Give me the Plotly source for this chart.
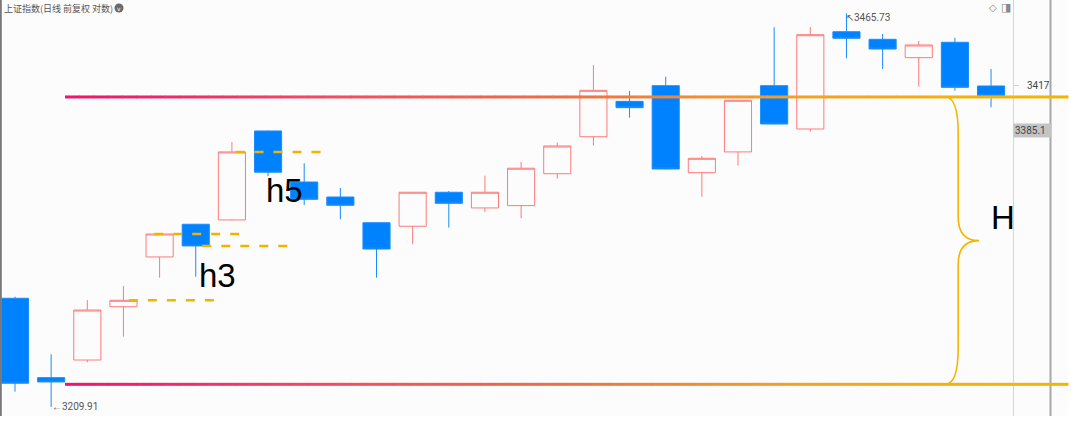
import math
import plotly.graph_objects as go

# ---------------- data ----------------
idx = list(range(28))
open_ = [3278.6, 3228.3, 3239.4, 3273.2, 3305.1, 3326.2, 3329.0, 3387.2, 3353.7, 3343.9,
         3327.2, 3324.9, 3347.0, 3336.8, 3338.3, 3359.1, 3383.4, 3406.8, 3417.2, 3359.8,
         3373.4, 3417.2, 3388.5, 3453.3, 3448.2, 3435.9, 3446.2, 3417.0]
close = [3224.8, 3225.6, 3271.1, 3277.3, 3319.9, 3312.2, 3373.4, 3360.1, 3342.4, 3338.5,
         3310.2, 3347.0, 3339.8, 3347.0, 3362.7, 3377.3, 3414.1, 3402.6, 3362.2, 3369.2,
         3407.5, 3391.8, 3451.3, 3448.9, 3441.7, 3444.4, 3416.1, 3410.6]
high = [3279.6, 3243.0, 3277.5, 3286.5, 3320.2, 3326.4, 3379.9, 3387.4, 3365.9, 3349.8,
        3327.4, 3347.2, 3347.8, 3357.8, 3366.8, 3379.5, 3431.0, 3413.7, 3423.2, 3370.7,
        3407.7, 3456.3, 3456.5, 3465.73, 3451.8, 3447.1, 3449.3, 3428.3]
low = [3219.5, 3209.91, 3238.0, 3254.2, 3291.8, 3292.4, 3328.7, 3357.6, 3338.7, 3329.4,
       3291.8, 3313.5, 3324.0, 3334.2, 3330.1, 3355.9, 3377.5, 3396.0, 3362.0, 3344.1,
       3364.4, 3391.6, 3386.7, 3435.5, 3428.3, 3416.5, 3413.9, 3402.9]

title_text = "上证指数(日线 前复权 对数)"
tick_vals = [3417]
tick_text = ["3417"]
marker_price = 3385.1
h_levels = [3409.7, 3224.1]          # the two gradient lines (H range)
dash_candles = [3, 4, 5, 6]          # candles whose close is marked with a dashed line
labels = ["h3", "h5", "H"]
label_prices = [3293.0, 3348.0, 3330.7]

# ---------------- figure ----------------
BG = "#fcfcfc"
fig = go.Figure(go.Candlestick(
    x=idx, open=open_, high=high, low=low, close=close,
    increasing=dict(line=dict(color="#ff7a7a", width=1), fillcolor=BG),
    decreasing=dict(line=dict(color="#1a8cff", width=1), fillcolor="#0082ff"),
    whiskerwidth=0, hoverinfo="skip", showlegend=False))

W, H = 1080, 425
ML, MR, MT, MB = 0, 67, 0, 9
PW = W - ML - MR
PX_PER_LOG10 = 11822.0
lg = math.log10

shapes = []
shapes.append(dict(type="rect", xref="paper", yref="paper", x0=1.0, x1=1068 / PW, y0=0, y1=1,
                   fillcolor=BG, line=dict(width=0), layer="below"))
shapes.append(dict(type="line", xref="paper", yref="paper", x0=1050.5 / PW, x1=1050.5 / PW, y0=0, y1=1,
                   line=dict(color="#a8a8a8", width=2)))
shapes.append(dict(type="line", xref="paper", yref="paper", x0=0.0008, x1=0.0008, y0=0, y1=1,
                   line=dict(color="#7a7a7a", width=2)))

stops = [(0.0, (240, 18, 110)), (0.25, (243, 72, 100)), (0.5, (238, 112, 70)),
         (0.72, (242, 160, 40)), (0.9, (244, 178, 10)), (1.0, (242, 182, 0))]


def grad(t):
    for (t0, c0), (t1, c1) in zip(stops[:-1], stops[1:]):
        if t <= t1:
            f = (t - t0) / (t1 - t0)
            return "rgb(%d,%d,%d)" % tuple(round(a + (b - a) * f) for a, b in zip(c0, c1))
    return "rgb(%d,%d,%d)" % stops[-1][1]


gx0, gx1 = 65 / PW, 1068 / PW
NSEG = 70
for lvl in h_levels:
    for i in range(NSEG):
        a = gx0 + (gx1 - gx0) * i / NSEG
        b = gx0 + (gx1 - gx0) * (i + 1) / NSEG
        shapes.append(dict(type="line", xref="paper", yref="y", x0=a, x1=b + 0.0005, y0=lvl, y1=lvl,
                           line=dict(color=grad((i + 0.5) / NSEG), width=3)))

dash_offsets = [0.15, -0.15, 0.18, 0.10]
for ci, off in zip(dash_candles, dash_offsets):
    shapes.append(dict(type="line", xref="x", yref="y", x0=ci + off, x1=ci + off + 2.47,
                       y0=close[ci], y1=close[ci], line=dict(color="#f2b300", width=2.5, dash="9px,10px")))

Yt, Yb = h_levels
Ym = (Yt * Yb) ** 0.5
xt, xv, xtip = 25.73, 26.09, 26.67
fa = 10 ** (36 / PX_PER_LOG10)
fb = 10 ** (24 / PX_PER_LOG10)


def p(x, y):
    return f"{x:.4f},{y:.3f}"


path = (f"M {p(xt, Yt)} Q {p(xv, Yt)} {p(xv, Yt / fa)} "
        f"L {p(xv, Ym * fb)} Q {p(xv, Ym)} {p(xtip, Ym)} "
        f"Q {p(xv, Ym)} {p(xv, Ym / fb)} L {p(xv, Yb * fa)} Q {p(xv, Yb)} {p(xt, Yb)}")
shapes.append(dict(type="path", xref="x", yref="y", path=path, line=dict(color="#f5b500", width=1.6)))

shapes.append(dict(type="circle", xref="paper", yref="paper", x0=114.5 / PW, x1=123.5 / PW,
                   y0=1 - 12.5 / 416, y1=1 - 3.5 / 416, fillcolor="#6a6a6a", line=dict(width=0)))

small = dict(family="Roboto, Arial, sans-serif", size=10, color="#555")
big = dict(family="Liberation Sans, Arial, sans-serif", size=33, color="#000")
annotations = [
    dict(text=title_text, xref="paper", yref="paper", x=0, y=1, xanchor="left", yanchor="middle",
         xshift=2, yshift=-8, showarrow=False,
         font=dict(family="Noto Sans CJK SC", size=9, color="#555")),
    dict(text="v", xref="paper", yref="paper", x=119 / PW, y=1 - 8 / 416, xanchor="center", yanchor="middle",
         showarrow=False, font=dict(family="DejaVu Sans", size=6, color="white")),
    dict(text="◇", xref="paper", yref="paper", x=992.5 / PW, y=1 - 7 / 416, xanchor="center",
         yanchor="middle", showarrow=False, font=dict(family="DejaVu Sans", size=10, color="#888")),
    dict(text="◨", xref="paper", yref="paper", x=1006 / PW, y=1 - 7 / 416, xanchor="center",
         yanchor="middle", showarrow=False, font=dict(family="DejaVu Sans", size=11, color="#888")),
    dict(text="←%.2f" % low[1], x=1, y=lg(low[1]), xanchor="left", yanchor="middle", xshift=-1,
         showarrow=False, font=small),
    dict(text="↖%.2f" % high[23], x=23, y=lg(high[23]), xanchor="left", yanchor="middle", xshift=-2,
         yshift=-4, showarrow=False, font=small),
    dict(text=str(marker_price), xref="paper", yref="y", x=1.0, y=lg(marker_price), xanchor="left",
         yanchor="middle", yshift=4, showarrow=False, bgcolor="#c4c4c4", width=35, align="left",
         borderpad=1, font=dict(family="Roboto, Arial, sans-serif", size=10, color="#444")),
    dict(text=labels[0], x=5.59, y=lg(label_prices[0]), showarrow=False, font=big),
    dict(text=labels[1], x=7.45, y=lg(label_prices[1]), showarrow=False, font=big),
    dict(text=labels[2], x=27.33, y=lg(label_prices[2]), showarrow=False, font=big),
]

fig.update_layout(
    width=W, height=H, margin=dict(l=ML, r=MR, t=MT, b=MB, pad=0),
    paper_bgcolor="white", plot_bgcolor=BG, boxgap=0.25, boxgroupgap=0,
    hovermode=False, showlegend=False,
    xaxis=dict(range=[-0.415, 27.607], visible=False, rangeslider=dict(visible=False), fixedrange=True),
    yaxis=dict(type="log", range=[3.505730, 3.540918], side="right", showgrid=False, zeroline=False,
               showline=True, linecolor="#d6d6d6", linewidth=1, ticks="outside", ticklen=5,
               tickcolor="#cfcfcf", tickvals=tick_vals, ticktext=tick_text,
               tickfont=dict(family="Roboto, Arial, sans-serif", size=10, color="#444"),
               ticklabelstandoff=6, fixedrange=True),
    shapes=shapes, annotations=annotations,
)

fig.write_html("out.html", config={"displayModeBar": False},
               post_script="document.body.style.margin='0';document.body.style.overflow='hidden';")
